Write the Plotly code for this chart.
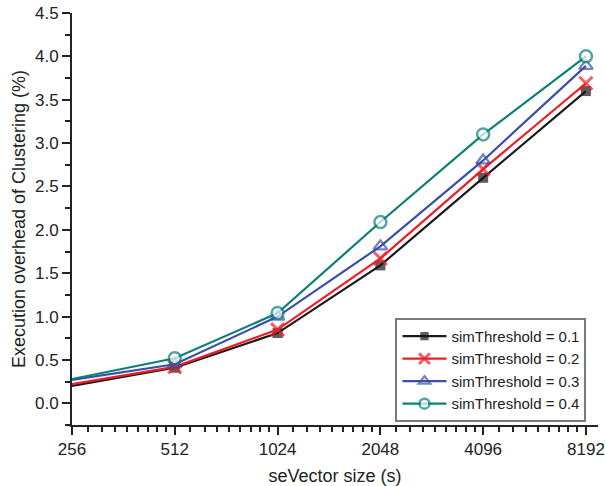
import plotly.graph_objects as go

# Vector sizes (s) on a base-2 log scale
sizes = [256, 512, 1024, 2048, 4096, 8192]
size_labels = ["256", "512", "1024", "2048", "4096", "8192"]

# Execution overhead of clustering (%) per similarity threshold
overhead_01 = [0.20, 0.41, 0.81, 1.59, 2.60, 3.60]
overhead_02 = [0.22, 0.42, 0.85, 1.67, 2.70, 3.69]
overhead_03 = [0.27, 0.45, 1.00, 1.81, 2.80, 3.89]
overhead_04 = [0.28, 0.52, 1.04, 2.09, 3.10, 4.00]

series = [
    ("simThreshold = 0.1", overhead_01, "#1a1a1a",
     dict(symbol="square", size=10, color="#1a1a1a", line=dict(width=0))),
    ("simThreshold = 0.2", overhead_02, "#ee1c25",
     dict(symbol="x-thin", size=13, color="#ee1c25", line=dict(width=3, color="#ee1c25"))),
    ("simThreshold = 0.3", overhead_03, "#3b4fa8",
     dict(symbol="triangle-up-open", size=12, color="#3b4fa8", line=dict(width=2.3))),
    ("simThreshold = 0.4", overhead_04, "#0b8078",
     dict(symbol="circle", size=12, color="white", line=dict(width=2.5, color="#0b8078"))),
]

fig = go.Figure()
for name, vals, col, mk in series:
    # first point sits on the y axis and carries no marker
    mk = dict(mk)
    mk["size"] = [0] + [mk["size"]] * (len(vals) - 1)
    fig.add_trace(go.Scatter(
        x=sizes, y=vals, name=name, mode="lines+markers",
        line=dict(color=col, width=2.2), marker=mk,
    ))

# minor ticks: linear subdivisions (ninths) within each octave
minor_x = [b * (1 + k / 9) for b in sizes[:-1] for k in range(1, 9)]

axis_col = "#222222"
fig.update_layout(
    width=605, height=486,
    margin=dict(l=72, r=7, t=13, b=61, autoexpand=False),
    paper_bgcolor="white", plot_bgcolor="white",
    font=dict(family="Liberation Sans, Arial, sans-serif", size=16, color=axis_col),
    showlegend=True,
    legend=dict(
        x=0.615, y=0.26, xanchor="left", yanchor="top",
        bordercolor="#7a7a7a", borderwidth=2, bgcolor="white",
        font=dict(size=15, color=axis_col),
        itemwidth=44,
    ),
    xaxis=dict(
        type="log", range=[2.40824, 3.9487], automargin=False,
        tickvals=sizes, ticktext=size_labels,
        tickfont=dict(size=17),
        showline=True, linecolor=axis_col, linewidth=2,
        ticks="outside", ticklen=8, tickwidth=2, tickcolor=axis_col,
        showgrid=False, zeroline=False,
        minor=dict(tickvals=minor_x, ticks="outside", ticklen=5, tickwidth=1.5,
                   tickcolor=axis_col, showgrid=False),
        title=dict(text="seVector size (s)", font=dict(size=18), standoff=11),
    ),
    yaxis=dict(
        range=[-0.25, 4.5], tick0=0, dtick=0.5, tickformat=".1f", automargin=False,
        tickfont=dict(size=17),
        showline=True, linecolor=axis_col, linewidth=2,
        ticks="outside", ticklen=8, tickwidth=2, tickcolor=axis_col,
        showgrid=False, zeroline=False,
        minor=dict(tick0=0, dtick=0.25, ticks="outside", ticklen=5, tickwidth=1.5,
                   tickcolor=axis_col, showgrid=False),
        title=dict(text="Execution overhead of Clustering (%)", font=dict(size=18), standoff=5),
    ),
)

fig.write_html("out.html")
